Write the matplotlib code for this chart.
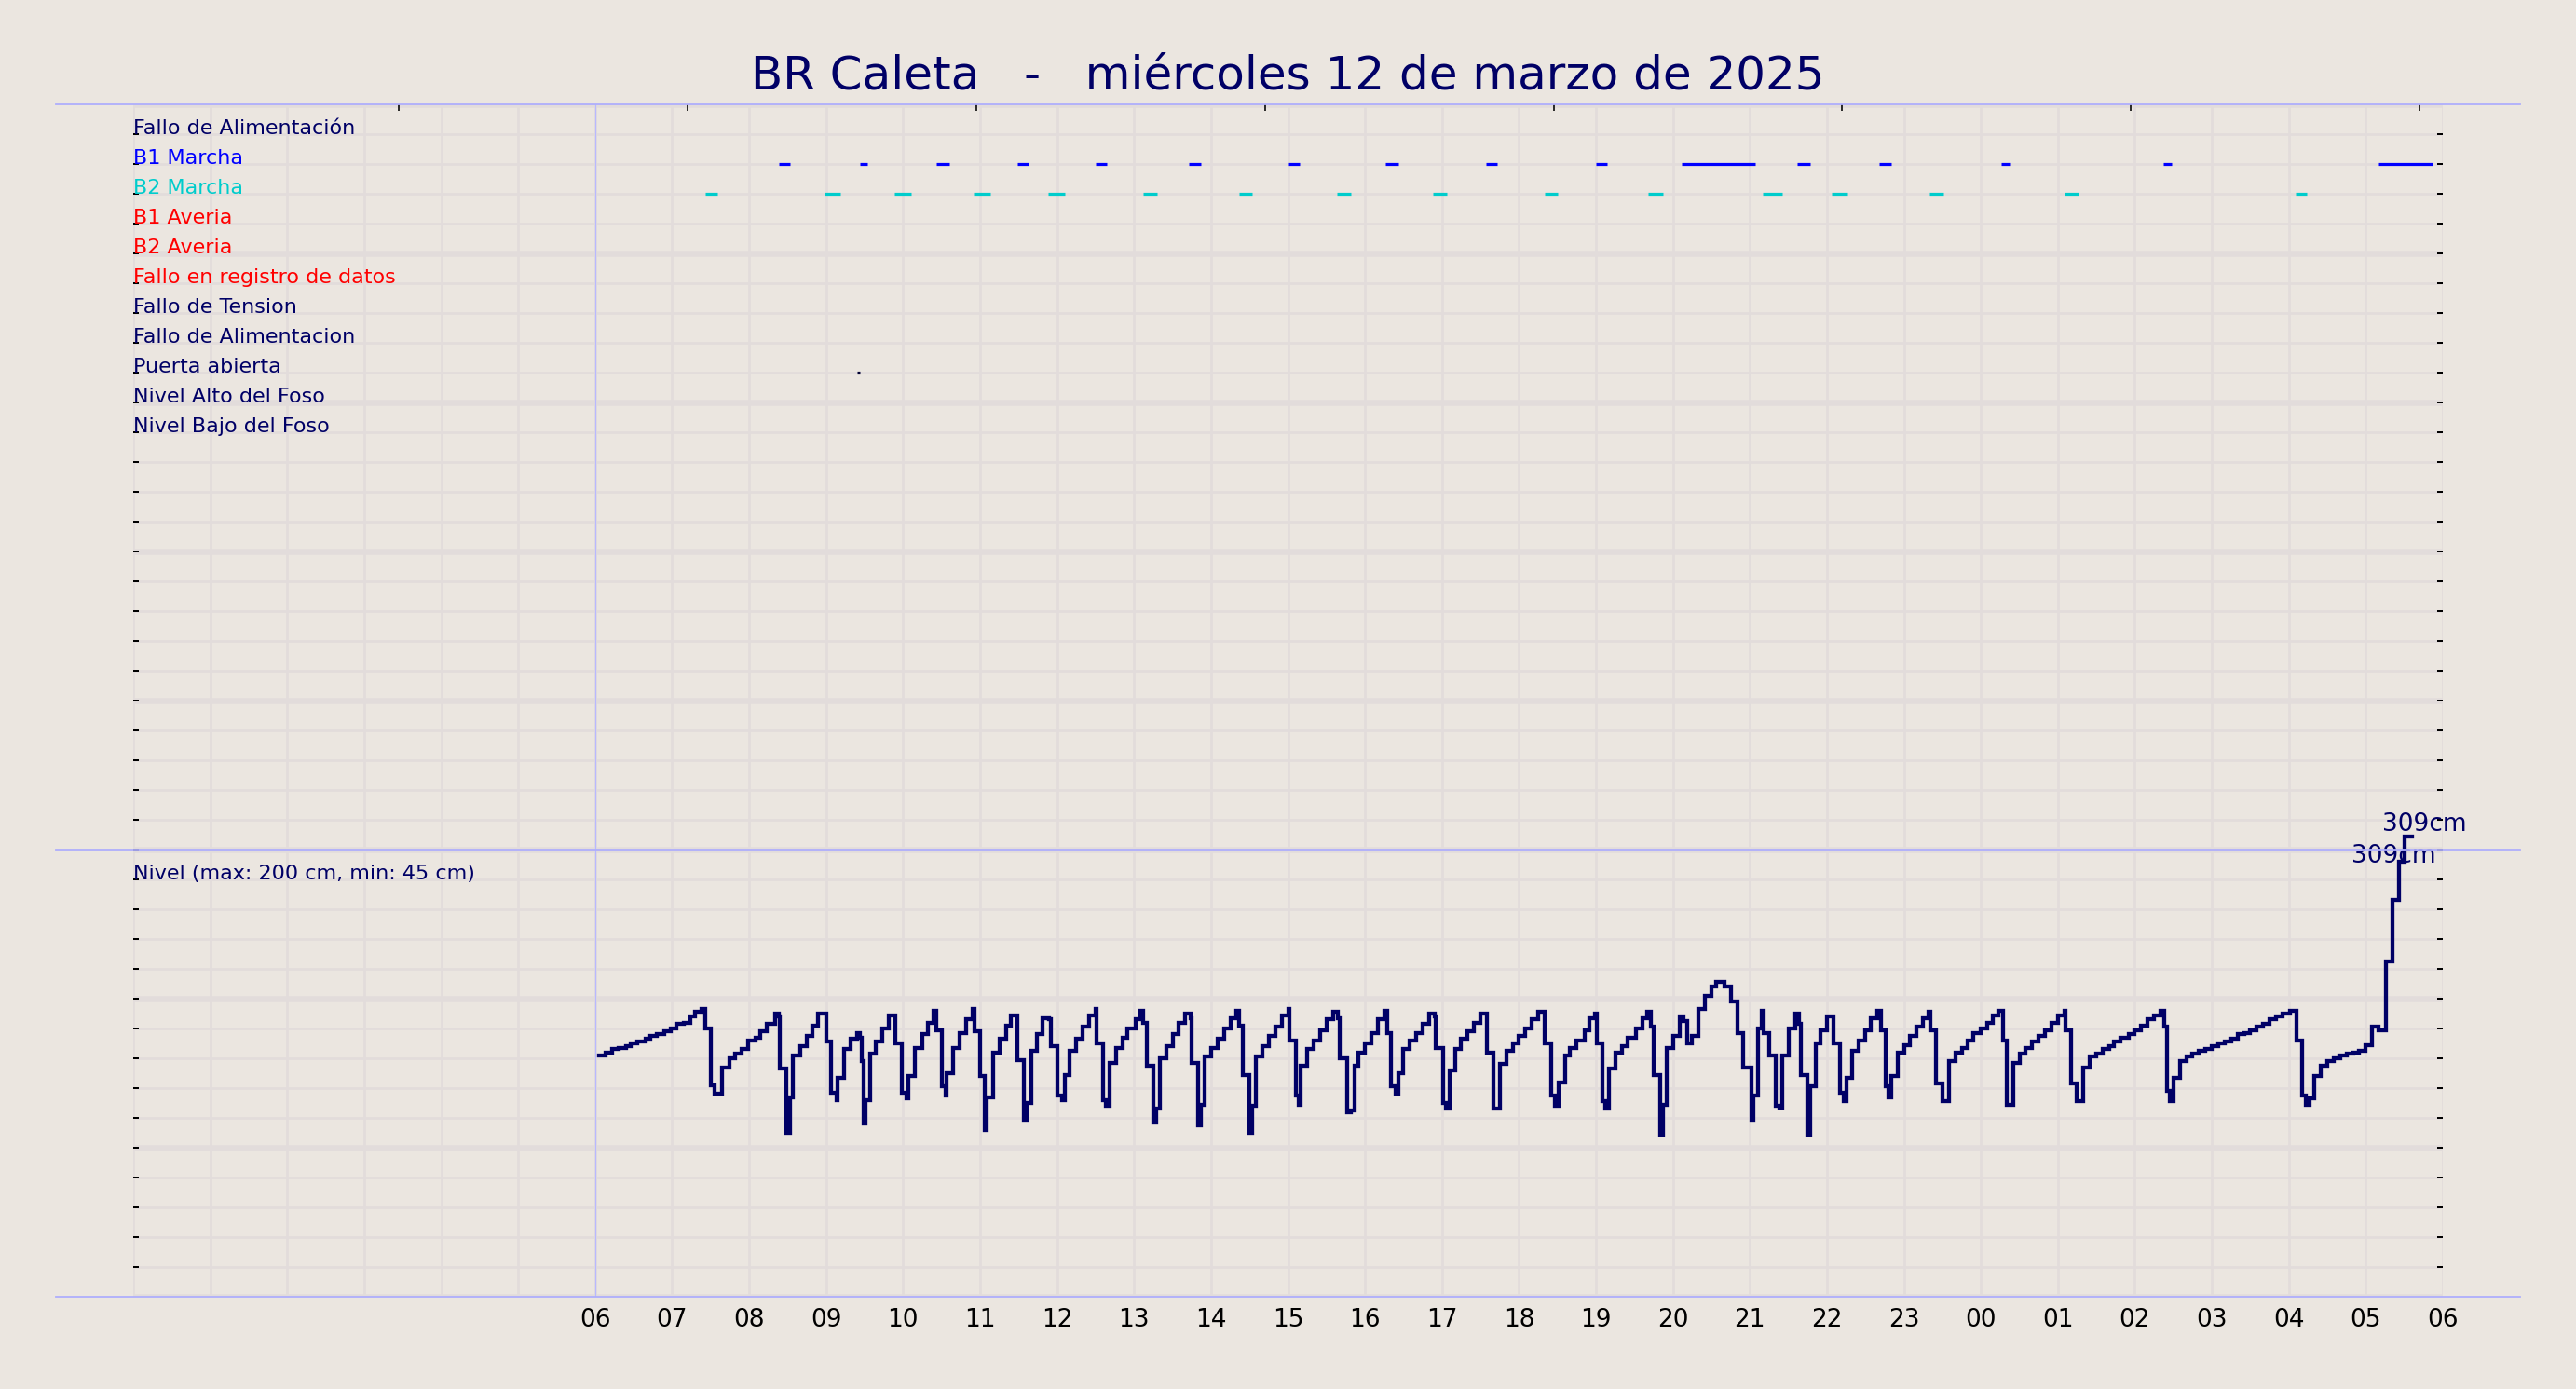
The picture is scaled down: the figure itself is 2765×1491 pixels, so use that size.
import matplotlib
matplotlib.use('Agg')
import matplotlib.pyplot as plt
from matplotlib.lines import Line2D
from matplotlib.ticker import FixedLocator

# ---------------- data ----------------
title = "BR Caleta   -   miércoles 12 de marzo de 2025"

row_labels = ["Fallo de Alimentación", "B1 Marcha", "B2 Marcha", "B1 Averia", "B2 Averia",
              "Fallo en registro de datos", "Fallo de Tension", "Fallo de Alimentacion",
              "Puerta abierta", "Nivel Alto del Foso", "Nivel Bajo del Foso"]
row_colors = ["#000066", "#0000ff", "#00cccc", "#ff0000", "#ff0000", "#ff0000",
              "#000066", "#000066", "#000066", "#000066", "#000066"]

# minutes since 00:00 of 12/03/2025
b1_start = [503, 566, 626, 689, 750, 823, 900, 976, 1054, 1140, 1207, 1297, 1361, 1456, 1582, 1750]
b1_end   = [512, 572, 636, 698, 759, 832, 909, 986, 1063, 1149, 1264, 1307, 1370, 1463, 1589, 1792]
b2_start = [446, 539, 593, 655, 713, 787, 862, 938, 1013, 1100, 1181, 1270, 1324, 1400, 1505, 1685]
b2_end   = [455, 551, 606, 668, 726, 798, 872, 949, 1024, 1110, 1192, 1285, 1336, 1411, 1516, 1694]
puerta_start = [564]
puerta_end = [566]

level_time = [
    363, 368, 373, 378, 384, 388, 393, 399, 403, 408, 414, 419, 423, 429, 434, 438, 443, 446, 450, 453,
    459, 465, 469, 474, 479, 485, 489, 494, 500, 503, 504, 509, 512, 514, 520, 525, 529, 534, 540, 544,
    548, 549, 554, 559, 564, 566, 568, 569, 571, 574, 579, 584, 589, 594, 599, 603, 604, 609, 615, 619,
    624, 626, 630, 633, 634, 639, 644, 649, 654, 656, 660, 664, 665, 670, 675, 680, 684, 689, 694, 696,
    700, 704, 709,
    714, 715, 720, 724, 726, 730, 735, 740, 745, 750, 751, 756, 758, 761, 766, 771, 775, 781, 785, 787,
    790, 795, 797, 800, 805, 810, 815, 820, 824, 825, 830, 832, 835, 840, 845, 850, 855, 860, 862, 865,
    870, 872, 875, 880, 885, 890, 895, 900, 901, 906, 908, 910, 915, 920, 925, 930, 935, 939, 940, 946,
    949, 952, 955, 960, 965, 970, 975, 977, 980, 984, 986, 990, 995, 1000, 1005, 1010, 1014, 1015, 1021, 1023,
    1026, 1030, 1035, 1040, 1045, 1050, 1055, 1060, 1065, 1070, 1075,
    1080, 1085, 1090, 1095, 1100, 1105, 1108, 1111, 1116, 1120, 1125, 1131, 1135, 1139, 1141, 1145, 1147, 1150,
    1155, 1160, 1165, 1171, 1176, 1180, 1183, 1185, 1190, 1192, 1195, 1200, 1205, 1208, 1211, 1215, 1220, 1225,
    1230, 1234, 1240, 1245, 1250, 1255, 1261, 1263, 1266, 1269, 1271, 1275, 1280, 1283, 1285, 1290, 1295, 1298,
    1300, 1305, 1307, 1311, 1315, 1320, 1325, 1330, 1333, 1335, 1340, 1345, 1350, 1354, 1359, 1362, 1366, 1368,
    1370, 1375, 1380, 1385, 1390, 1395, 1399, 1401, 1405, 1410, 1415, 1420, 1425, 1430, 1434,
    1440, 1445, 1449, 1454, 1457, 1460, 1465, 1470, 1475, 1480, 1485, 1490, 1495, 1500, 1505, 1506, 1510, 1515,
    1520, 1525, 1530, 1535, 1540, 1544, 1549, 1555, 1560, 1565, 1570, 1575, 1580, 1583, 1585, 1587, 1590, 1595,
    1600, 1605, 1610, 1615, 1620, 1625, 1630, 1635, 1640, 1645, 1650, 1655, 1660, 1665, 1670, 1675, 1681, 1686,
    1690, 1693, 1696, 1700, 1705, 1710, 1715, 1720, 1725, 1730, 1735, 1740, 1745, 1750, 1756, 1761, 1766, 1770,
    1776]
level_cm = [
    162, 164, 166, 167, 168, 170, 171, 173, 175, 176, 178, 180, 183, 184, 188, 191, 193, 180, 142, 136,
    154, 160, 163, 166, 172, 174, 178, 183, 190, 188, 153, 110, 134, 162, 168, 175, 182, 190, 171, 137,
    132, 147, 166, 173, 177, 174, 158, 116, 132, 163, 171, 180, 189, 170, 137, 133, 148, 167, 176, 184,
    192, 179, 141, 135, 150, 167, 177, 186, 193, 178, 148, 112, 134, 164, 173, 182, 189, 159, 119, 130,
    165, 176, 187,
    186, 168, 135, 132, 149, 165, 173, 181, 189, 193, 170, 132, 128, 157, 167, 174, 180, 186, 192, 184,
    155, 117, 126, 160, 168, 176, 184, 190, 187, 157, 115, 129, 161, 167, 173, 180, 187, 192, 182, 149,
    110, 128, 161, 168, 175, 181, 189, 193, 172, 135, 129, 155, 166, 172, 179, 186, 191, 187, 160, 124,
    125, 155, 164, 170, 177, 186, 192, 177, 141, 136, 150, 166, 172, 177, 183, 190, 188, 167, 130, 126,
    152, 166, 173, 178, 184, 190, 164, 126, 156, 165, 170,
    175, 180, 186, 191, 170, 135, 128, 144, 162, 167, 172, 179, 187, 190, 170, 131, 126, 153,
    164, 168, 174, 180, 187, 191, 181, 149, 109, 129, 167, 175, 188, 185, 170, 175, 193, 202,
    208, 211, 208, 198, 177, 154, 119, 135, 180, 192, 177, 162, 128, 127, 162, 180, 190, 183,
    149, 109, 141, 170, 179, 188, 170, 137, 131, 147, 165, 172, 179, 187, 192, 179, 141, 134,
    148, 164, 169, 175, 181, 187, 191, 179, 143, 131, 158, 164, 167, 172, 177,
    180, 184, 189, 192, 172, 129, 157, 163, 167, 171, 175, 179, 184, 189, 192, 179, 143, 131,
    154, 161, 163, 166, 168, 171, 174, 176, 179, 182, 186, 189, 192, 181, 138, 131, 147, 158,
    161, 163, 165, 166, 168, 170, 171, 173, 176, 177, 179, 181, 183, 186, 188, 190, 192, 172,
    135, 129, 133, 148, 155, 158, 160, 162, 163, 164, 165, 169, 181, 179, 225, 266, 292, 309,
    309]

hour_ticks = list(range(0, 1801, 60))
hour_labels = [("%02d" % ((m // 60) % 24)) if m >= 360 else "" for m in hour_ticks]
top_tick_min = [207, 432, 657, 882, 1107, 1332, 1557, 1782]
level_label = "Nivel (max: 200 cm, min: 45 cm)"
peak_label = "309cm"

# ---------------- style ----------------
W, H, DPI = 2765, 1491, 100
BG = '#ebe6e0'
GRID = '#e2dcdb'
NAVY = '#000066'
SEP = '#aeaefc'
PX = 72.0 / DPI

fig = plt.figure(figsize=(W / DPI, H / DPI), dpi=DPI)
fig.patch.set_facecolor(BG)

L, R = 143 / W, 2622 / W
ax_top = fig.add_axes([L, 1 - 912 / H, R - L, 800 / H])
ax_bot = fig.add_axes([L, 1 - 1392 / H, R - L, 480 / H])

for ax in (ax_top, ax_bot):
    ax.set_facecolor(BG)
    for s in ax.spines.values():
        s.set_visible(False)
    ax.set_xlim(0, 1800)
    ax.set_xticks(hour_ticks)
    ax.xaxis.grid(True, color=GRID, lw=2.7 * PX, zorder=0)
    ax.yaxis.remove_overlapping_locs = False
    ax.yaxis.grid(True, which='major', color=GRID, lw=6.5 * PX)
    ax.yaxis.grid(True, which='minor', color=GRID, lw=2.7 * PX)
    ax.tick_params(axis='y', which='major', length=0, labelleft=False)
    ax.tick_params(axis='y', which='minor', direction='in', length=6 * PX, width=2 * PX,
                   color='black', left=True, right=True, labelleft=False)
    ax.tick_params(axis='x', length=0)
    ax.set_axisbelow(True)

# top panel (events)
ax_top.set_ylim(25, 0)
ax_top.yaxis.set_major_locator(FixedLocator([0, 5, 10, 15, 20, 25]))
ax_top.yaxis.set_minor_locator(FixedLocator(list(range(1, 25))))
ax_top.tick_params(axis='x', labelbottom=False)

for i, (lab, col) in enumerate(zip(row_labels, row_colors)):
    ax_top.text(0, i + 1, lab, color=col, fontsize=16, ha='left', va='baseline', zorder=5)

ax_top.hlines([2] * len(b1_start), b1_start, b1_end, color='#0000ff', lw=3.2 * PX,
              capstyle='butt', zorder=4)
ax_top.hlines([3] * len(b2_start), b2_start, b2_end, color='#00cccc', lw=3.2 * PX,
              capstyle='butt', zorder=4)
ax_top.hlines([9] * len(puerta_start), puerta_start, puerta_end, color='#000033',
              lw=3.2 * PX, capstyle='butt', zorder=4)

tw = ax_top.twiny()
tw.set_xlim(0, 1800)
tw.set_xticks(top_tick_min)
tw.tick_params(axis='x', which='major', top=True, bottom=False, direction='in',
               length=7 * PX, width=1.6 * PX, color='black', labeltop=False, pad=0)
for s in tw.spines.values():
    s.set_visible(False)

# bottom panel (level)
ax_bot.set_ylim(0, 300)
ax_bot.yaxis.set_major_locator(FixedLocator([0, 100, 200, 300]))
ax_bot.yaxis.set_minor_locator(FixedLocator(list(range(20, 301, 20))))
ax_bot.set_xticklabels(hour_labels)
ax_bot.tick_params(axis='x', labelsize=19, labelcolor='black', pad=8.6)

ax_bot.plot(level_time, level_cm, drawstyle='steps-post', color=NAVY, lw=4.3 * PX,
            clip_on=False, zorder=4, solid_joinstyle='miter')
ax_bot.text(0, 280, level_label, color=NAVY, fontsize=16, ha='left', va='baseline', zorder=5)

ax_bot.annotate(peak_label, xy=(level_time[-1], level_cm[-1]), xytext=(-32, 6),
                textcoords='offset pixels', ha='left', va='baseline', fontsize=19,
                color=NAVY, annotation_clip=False, zorder=6)
ax_bot.annotate(peak_label, xy=(level_time[-1], level_cm[-1]), xytext=(-65, -28),
                textcoords='offset pixels', ha='left', va='baseline', fontsize=19,
                color=NAVY, annotation_clip=False, zorder=6)

for ax in (ax_top, ax_bot):
    ax.axvline(360, color='#b8b8ff', lw=1.2 * PX, zorder=3)

# separator lines
for ypx in (112, 912, 1392):
    fig.add_artist(Line2D([60 / W, 2705 / W], [1 - ypx / H] * 2, color=SEP, lw=1.8 * PX,
                          transform=fig.transFigure, zorder=10))

fig.text(0.5, 1 - 82 / H, title, ha='center', va='center', fontsize=36, color=NAVY)

fig.savefig('out.png', dpi=DPI, facecolor=BG)
